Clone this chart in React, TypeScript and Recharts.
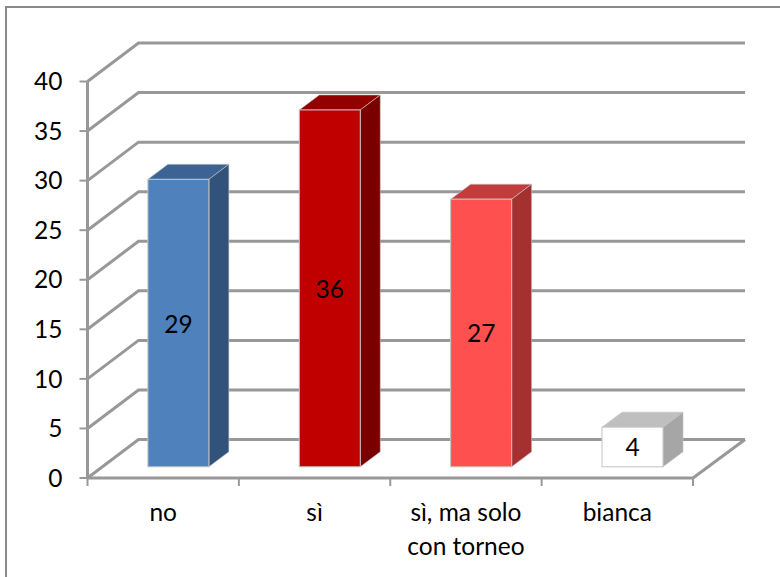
import React from "react";
import { BarChart, Bar, XAxis, YAxis, CartesianGrid } from "recharts";

const categories = ["no", "sì", "sì, ma solo con torneo", "bianca"];
const categoryLines = [["no"], ["sì"], ["sì, ma solo", "con torneo"], ["bianca"]];
const votes = [29, 36, 27, 4];
const yTicks = [0, 5, 10, 15, 20, 25, 30, 35, 40];
const frontColors = ["#4F81BD", "#C00000", "#FF5050", "#FFFFFF"];
const sideColors = ["#31527A", "#7A0000", "#A53030", "#A6A6A6"];
const topColors = ["#3C6393", "#920000", "#C23C3C", "#BFBFBF"];

const rows = categories.map((name, i) => ({ name, votes: votes[i], i }));

const FONT = "Lato, 'Open Sans', sans-serif";
const FONT_SIZE = 24.5;
const AXIS = "#989898";
const WALL_DX = 51;
const WALL_DY = -38.5;
const BAR_DX = 15.4;
const BAR_DY = -11.2;
const DEPTH_X = 20;
const DEPTH_Y = -15;

function gridLine(p: any) {
  const { x1, y1, x2, y, height, key } = p;
  const isFloor = y1 >= y + height - 1;
  return (
    <g key={key ?? y1}>
      <polyline
        points={`${x1},${y1} ${x1 + WALL_DX},${y1 + WALL_DY} ${x2 + WALL_DX + 1},${y1 + WALL_DY}`}
        fill="none"
        stroke={AXIS}
        strokeWidth={3}
      />
      {isFloor && (
        <line x1={x2} y1={y1} x2={x2 + WALL_DX + 1} y2={y1 + WALL_DY} stroke={AXIS} strokeWidth={3} />
      )}
    </g>
  );
}

function Bar3D(p: any) {
  const { x, y, width, height, payload } = p;
  const i = payload.i;
  const fx = x + BAR_DX;
  const fy = y + BAR_DY;
  const r = fx + width;
  const b = fy + height;
  const outline = "#c4c4c4";
  return (
    <g>
      <polygon
        points={`${fx},${fy} ${fx + DEPTH_X},${fy + DEPTH_Y} ${r + DEPTH_X},${fy + DEPTH_Y} ${r},${fy}`}
        fill={topColors[i]}
        stroke={outline}
        strokeWidth={0.6}
      />
      <polygon
        points={`${r},${fy} ${r + DEPTH_X},${fy + DEPTH_Y} ${r + DEPTH_X},${b + DEPTH_Y} ${r},${b}`}
        fill={sideColors[i]}
        stroke={outline}
        strokeWidth={0.6}
      />
      <rect x={fx} y={fy} width={width} height={height} fill={frontColors[i]} stroke={outline} strokeWidth={1} />
      <text
        x={fx + width / 2}
        y={fy + height / 2}
        textAnchor="middle"
        dominantBaseline="central"
        fontFamily={FONT}
        fontSize={FONT_SIZE}
        fill="#000"
      >
        {payload.votes}
      </text>
    </g>
  );
}

function XTick(p: any) {
  const { x, y, payload, index } = p;
  const half = payload.offset ?? 75.6;
  const last = index === categories.length - 1;
  const axisY = y - 8;
  return (
    <g>
      <line x1={x - half} y1={axisY} x2={x - half} y2={axisY + 8} stroke={AXIS} strokeWidth={2} />
      {last && <line x1={x + half} y1={axisY} x2={x + half} y2={axisY + 8} stroke={AXIS} strokeWidth={2} />}
      <text x={x} y={axisY + 43} textAnchor="middle" fontFamily={FONT} fontSize={FONT_SIZE} fill="#000">
        {categoryLines[index].map((line, n) => (
          <tspan key={line} x={x} dy={n === 0 ? 0 : 34}>
            {line}
          </tspan>
        ))}
      </text>
    </g>
  );
}

export default function App() {
  return (
    <div style={{ position: "absolute", left: 0, top: 0, width: 780, height: 577, background: "#fff", overflow: "hidden" }}>
      <div
        style={{
          position: "absolute",
          left: 5,
          top: 6,
          width: 800,
          height: 600,
          borderLeft: "2px solid #8a8a8a",
          borderTop: "2px solid #8a8a8a",
        }}
      />
      <div style={{ position: "absolute", left: 0, top: 0 }}>
        <BarChart
          width={780}
          height={577}
          data={rows}
          margin={{ top: 81.5, right: 87, bottom: 69, left: 0 }}
          barSize={61}
        >
          <CartesianGrid vertical={false} horizontal={gridLine as any} />
          <XAxis
            dataKey="name"
            height={30}
            interval={0}
            axisLine={{ stroke: AXIS, strokeWidth: 3 }}
            tickLine={false}
            tick={XTick as any}
            tickSize={8}
            tickMargin={0}
          />
          <YAxis
            width={87.5}
            domain={[0, 40]}
            ticks={yTicks}
            interval={0}
            axisLine={{ stroke: AXIS, strokeWidth: 3 }}
            tickLine={{ stroke: AXIS, strokeWidth: 2 }}
            tickSize={8}
            tickMargin={17}
            tick={{ fill: "#000", fontFamily: FONT, fontSize: FONT_SIZE }}
          />
          <Bar dataKey="votes" shape={Bar3D as any} isAnimationActive={false} />
        </BarChart>
      </div>
    </div>
  );
}
